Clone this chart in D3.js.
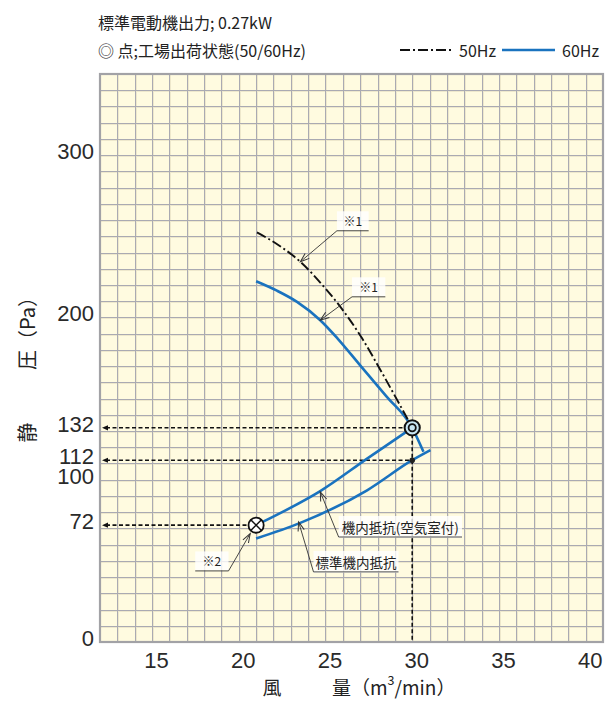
<!DOCTYPE html>
<html><head><meta charset="utf-8">
<script src="https://cdn.jsdelivr.net/npm/d3@7"></script>
<style>body{margin:0;background:#fff}</style>
</head><body>
<svg id="c" width="610" height="701" xmlns="http://www.w3.org/2000/svg"></svg>
<script>
// ---------- data ----------
const xDomain = [12, 41];
const yDomain = [0, 350];
const xTicks = [15, 20, 25, 30, 35, 40];
const yTicks = [0, 100, 200, 300];
const markTicks = [132, 112, 72];

// 50Hz fan curve (dash-dot)
const fan50Q = [21.05, 22.3, 23.55, 24.7, 25.86, 27.11, 28.2, 29.22, 29.6, 30.0];
const fan50P = [252.4, 244.5, 234.3, 221.5, 206.5, 187.1, 167.0, 147.4, 140.0, 132.0];
// 60Hz fan curve (blue)
const fan60Q = [21.0, 22.2, 23.36, 24.7, 25.7, 27.0, 28.5, 30.0, 30.65];
const fan60P = [222.3, 216.5, 209.6, 198.3, 187.0, 170.5, 151.5, 132.0, 117.2];
// internal resistance with air chamber
const resAirQ = [21.0, 22.5, 24.7, 27.4, 30.0];
const resAirP = [72.0, 80.0, 93.0, 113.0, 132.0];
// standard internal resistance
const resStdQ = [21.0, 23.55, 27.4, 30.0, 31.05];
const resStdP = [63.8, 73.4, 93.5, 112.0, 118.2];

const opPoint = {q: 30, p: 132};
const stdPoint = {q: 30, p: 112};
const minPoint = {q: 21, p: 72};

const headerLine1 = "標準電動機出力; 0.27kW";
const headerLine2 = "◎ 点;工場出荷状態(50/60Hz)";
const legendLabels = ["50Hz", "60Hz"];

// annotation leaders: tip on curve, elbow, end of underline (data coords)
const annoLabels = ["※1", "※1", "※2", "機内抵抗(空気室付)", "標準機内抵抗"];
const annoTip   = [[23.55, 234.3], [24.70, 198.3], [20.66, 66.8], [24.70, 92.5], [23.45, 74.0]];
const annoElbow = [[25.66, 253.4], [26.53, 212.7], [19.41, 43.8], [25.76, 64.7], [24.31, 43.2]];
const annoEnd   = [[27.49, 253.4], [28.45, 212.7], [17.49, 43.8], [32.87, 64.7], [29.21, 43.2]];

// ---------- drawing ----------
const svg = d3.select("#c");
const L = 100, R = 603, T = 74, B = 642;
const x = d3.scaleLinear().domain(xDomain).range([L, R]);
const y = d3.scaleLinear().domain(yDomain).range([B, T]);
const blue = "#1a73bf";
const cjk = "'Noto Sans CJK JP','Noto Sans',sans-serif";
const num = "'Liberation Sans',Arial,sans-serif";
const crisp = v => Math.round(v) + 0.5;

const defs = svg.append("defs");
defs.append("marker").attr("id", "openArrow")
  .attr("viewBox", "-10 -5 12 10").attr("refX", 0).attr("refY", 0)
  .attr("markerWidth", 12).attr("markerHeight", 10).attr("markerUnits", "userSpaceOnUse")
  .attr("orient", "auto")
  .append("path").attr("d", "M-9,-3.2 L0,0 L-9,3.2").attr("fill", "none")
  .attr("stroke", "#333").attr("stroke-width", 1);

// plot background
svg.append("rect").attr("x", L).attr("y", T).attr("width", R - L).attr("height", B - T)
  .attr("fill", "#fffbe0");

// grid
const g = svg.append("g");
const vVals = d3.range(xDomain[0] + 1, xDomain[1]);
const hVals = d3.range(10, yDomain[1], 10);
g.selectAll("line.vs").data(vVals).enter().append("line")
  .attr("x1", d => crisp(x(d)) + 1).attr("x2", d => crisp(x(d)) + 1).attr("y1", T).attr("y2", B)
  .attr("stroke", "#eee8cc").attr("stroke-width", 1);
g.selectAll("line.hs").data(hVals).enter().append("line")
  .attr("x1", L).attr("x2", R).attr("y1", d => crisp(y(d)) + 1).attr("y2", d => crisp(y(d)) + 1)
  .attr("stroke", "#eee8cc").attr("stroke-width", 1);
g.selectAll("line.v").data(vVals).enter().append("line")
  .attr("x1", d => crisp(x(d))).attr("x2", d => crisp(x(d))).attr("y1", T).attr("y2", B)
  .attr("stroke", "#aaaab2").attr("stroke-width", 1);
g.selectAll("line.h").data(hVals).enter().append("line")
  .attr("x1", L).attr("x2", R).attr("y1", d => crisp(y(d))).attr("y2", d => crisp(y(d)))
  .attr("stroke", "#aaaab2").attr("stroke-width", 1);
svg.append("rect").attr("x", L).attr("y", T).attr("width", R - L).attr("height", B - T)
  .attr("fill", "none").attr("stroke", "#a2a2a6").attr("stroke-width", 2.2);

// axes (labels only)
const xa = svg.append("g").attr("transform", `translate(4,${B})`)
  .call(d3.axisBottom(x).tickValues(xTicks).tickSize(0).tickPadding(10).tickFormat(d3.format("d")));
xa.select(".domain").remove();
xa.selectAll("text").attr("font-family", num).attr("font-size", 22).attr("fill", "#2a2a2a");

const ya = svg.append("g").attr("transform", `translate(${L},-3.5)`)
  .call(d3.axisLeft(y).tickValues(yTicks.concat(markTicks)).tickSize(0).tickPadding(6).tickFormat(d3.format("d")));
ya.select(".domain").remove();
ya.selectAll("text").attr("font-family", num).attr("font-size", 22).attr("fill", "#2a2a2a");

// dashed reference lines
const refs = [opPoint, stdPoint, minPoint];
refs.forEach(r => {
  svg.append("line").attr("x1", L + 6).attr("x2", x(r.q)).attr("y1", y(r.p)).attr("y2", y(r.p))
    .attr("stroke", "#111").attr("stroke-width", 1.6).attr("stroke-dasharray", "4,2.5");
  svg.append("path")
    .attr("d", `M${L + 2},${y(r.p)} L${L + 8},${y(r.p) - 2.6} L${L + 8},${y(r.p) + 2.6} Z`)
    .attr("fill", "#111");
});
svg.append("line").attr("x1", x(opPoint.q)).attr("x2", x(opPoint.q))
  .attr("y1", y(opPoint.p)).attr("y2", B)
  .attr("stroke", "#111").attr("stroke-width", 1.6).attr("stroke-dasharray", "4,2.5");

// curves
const line = d3.line().x(d => x(d[0])).y(d => y(d[1])).curve(d3.curveMonotoneX);
const zip = (a, b) => a.map((v, i) => [v, b[i]]);
svg.append("path").attr("d", line(zip(resAirQ, resAirP))).attr("fill", "none")
  .attr("stroke", blue).attr("stroke-width", 2.6);
svg.append("path").attr("d", line(zip(resStdQ, resStdP))).attr("fill", "none")
  .attr("stroke", blue).attr("stroke-width", 2.6);
svg.append("path").attr("d", line(zip(fan60Q, fan60P))).attr("fill", "none")
  .attr("stroke", blue).attr("stroke-width", 2.6);
svg.append("path").attr("d", line(zip(fan50Q, fan50P))).attr("fill", "none")
  .attr("stroke", "#111").attr("stroke-width", 1.9).attr("stroke-dasharray", "10,3,2,3");

// points
svg.append("circle").attr("cx", x(stdPoint.q)).attr("cy", y(stdPoint.p)).attr("r", 2.8).attr("fill", "#222");
svg.append("circle").attr("cx", x(opPoint.q)).attr("cy", y(opPoint.p)).attr("r", 7.6)
  .attr("fill", "#c9e6f2").attr("stroke", "#111").attr("stroke-width", 2);
svg.append("circle").attr("cx", x(opPoint.q)).attr("cy", y(opPoint.p)).attr("r", 3.6)
  .attr("fill", "#c9e6f2").attr("stroke", "#111").attr("stroke-width", 1.8);
const mx = x(minPoint.q), my = y(minPoint.p), mr = 7.6, k = mr * Math.SQRT1_2;
svg.append("circle").attr("cx", mx).attr("cy", my).attr("r", mr)
  .attr("fill", "#fff").attr("stroke", "#111").attr("stroke-width", 1.8);
svg.append("path").attr("d", `M${mx - k},${my - k} L${mx + k},${my + k} M${mx - k},${my + k} L${mx + k},${my - k}`)
  .attr("stroke", "#111").attr("stroke-width", 1.5);

// annotations
annoLabels.forEach((lab, i) => {
  const tip = annoTip[i], el = annoElbow[i], en = annoEnd[i];
  const small = lab.startsWith("※");
  const tx = (x(el[0]) + x(en[0])) / 2, ty = y(el[1]) - 10;
  const t = svg.append("text").attr("x", tx).attr("y", ty).attr("text-anchor", "middle")
    .attr("dominant-baseline", "central").attr("font-family", cjk)
    .attr("font-size", small ? 12 : 13.5).attr("fill", "#222").text(lab);
  const bb = t.node().getBBox();
  svg.insert("rect", () => t.node()).attr("x", Math.min(x(el[0]), x(en[0]))).attr("y", bb.y - 1)
    .attr("width", Math.abs(x(en[0]) - x(el[0]))).attr("height", bb.height + 2)
    .attr("fill", "#ffffff").attr("opacity", 0.8);
  svg.append("polyline")
    .attr("points", `${x(en[0])},${y(en[1])} ${x(el[0])},${y(el[1])} ${x(tip[0])},${y(tip[1])}`)
    .attr("fill", "none").attr("stroke", "#333").attr("stroke-width", 0.9)
    .attr("marker-end", "url(#openArrow)");
});

// header
svg.append("text").attr("x", 98).attr("y", 21.5).attr("dominant-baseline", "central")
  .attr("font-family", cjk).attr("font-size", 16).attr("fill", "#222").text(headerLine1);
svg.append("text").attr("x", 98).attr("y", 50).attr("dominant-baseline", "central")
  .attr("font-family", cjk).attr("font-size", 16).attr("fill", "#222").text(headerLine2);

// legend
svg.append("line").attr("x1", 400).attr("x2", 453).attr("y1", 50).attr("y2", 50)
  .attr("stroke", "#111").attr("stroke-width", 1.9).attr("stroke-dasharray", "10,3,2,3");
svg.append("text").attr("x", 459).attr("y", 50).attr("dominant-baseline", "central")
  .attr("font-family", cjk).attr("font-size", 16).attr("fill", "#222").text(legendLabels[0]);
svg.append("line").attr("x1", 502).attr("x2", 555).attr("y1", 50).attr("y2", 50)
  .attr("stroke", blue).attr("stroke-width", 2.6);
svg.append("text").attr("x", 562).attr("y", 50).attr("dominant-baseline", "central")
  .attr("font-family", cjk).attr("font-size", 16).attr("fill", "#222").text(legendLabels[1]);

// axis titles
svg.append("text").attr("x", 272).attr("y", 686).attr("text-anchor", "middle").attr("dominant-baseline", "central")
  .attr("font-family", cjk).attr("font-size", 19).attr("fill", "#222").text("風");
const xt = svg.append("text").attr("x", 332).attr("y", 686).attr("dominant-baseline", "central")
  .attr("font-family", cjk).attr("font-size", 19).attr("fill", "#222");
xt.append("tspan").text("量（m");
xt.append("tspan").attr("font-size", 12.5).attr("dy", -7).text("3");
xt.append("tspan").attr("dy", 7).text("/min）");

svg.append("text").attr("transform", "translate(26,432.5) rotate(-90)")
  .attr("text-anchor", "middle").attr("dominant-baseline", "central")
  .attr("font-family", cjk).attr("font-size", 20).attr("fill", "#222").text("静");
svg.append("text").attr("transform", "translate(26,370) rotate(-90)")
  .attr("text-anchor", "start").attr("dominant-baseline", "central")
  .attr("font-family", cjk).attr("font-size", 20).attr("fill", "#222").text("圧（Pa）");
</script>
</body></html>
